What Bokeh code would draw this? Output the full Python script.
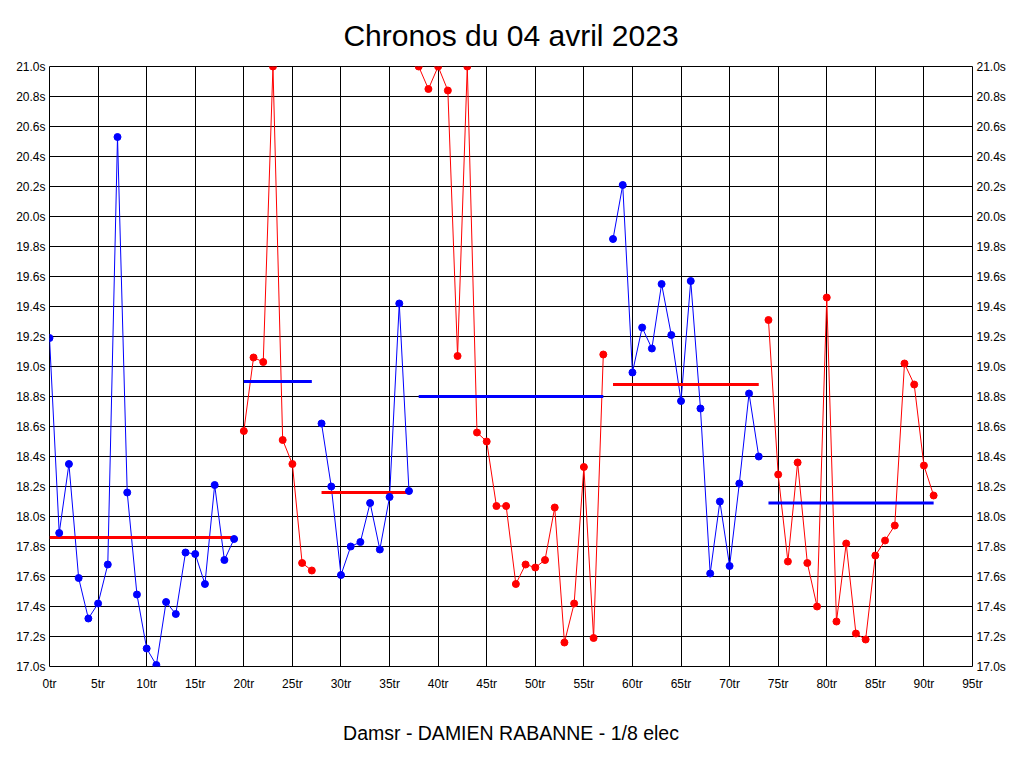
from bokeh.plotting import figure
from bokeh.models import FixedTicker, PrintfTickFormatter, LinearAxis, Range1d
from bokeh.embed import file_html
from bokeh.resources import INLINE

# ---- data (lap times in seconds, laps numbered from 0) ----
seg1_start = 0
seg1_times = [19.19, 17.89, 18.35, 17.59, 17.32, 17.42, 17.68, 20.53, 18.16, 17.48,
              17.12, 17.01, 17.43, 17.35, 17.76, 17.75, 17.55, 18.21, 17.71, 17.85]
seg2_start = 20
seg2_times = [18.57, 19.06, 19.03, 21.00, 18.51, 18.35, 17.69, 17.64]
seg3_start = 28
seg3_times = [18.62, 18.20, 17.61, 17.80, 17.83, 18.09, 17.78, 18.13, 19.42, 18.17]
seg4_start = 38
seg4_times = [21.00, 20.85, 21.00, 20.84, 19.07, 21.00, 18.56, 18.50, 18.07, 18.07,
              17.55, 17.68, 17.66, 17.71, 18.06, 17.16, 17.42, 18.33, 17.19, 19.08]
seg5_start = 58
seg5_times = [19.85, 20.21, 18.96, 19.26, 19.12, 19.55, 19.21, 18.77, 19.57, 18.72,
              17.62, 18.10, 17.67, 18.22, 18.82, 18.40]
seg6_start = 74
seg6_times = [19.31, 18.28, 17.70, 18.36, 17.69, 17.40, 19.46, 17.30, 17.82, 17.22,
              17.18, 17.74, 17.84, 17.94, 19.02, 18.88, 18.34, 18.14]
seg_means = [17.86, 18.90, 18.16, 18.80, 18.88, 18.09]
seg_colors = ["#0000ff", "#ff0000", "#0000ff", "#ff0000", "#0000ff", "#ff0000"]
mean_colors = ["#ff0000", "#0000ff", "#ff0000", "#0000ff", "#ff0000", "#0000ff"]

x_ticks = [0, 5, 10, 15, 20, 25, 30, 35, 40, 45, 50, 55, 60, 65, 70, 75, 80, 85, 90, 95]
y_ticks = [17.0, 17.2, 17.4, 17.6, 17.8, 18.0, 18.2, 18.4, 18.6, 18.8, 19.0,
           19.2, 19.4, 19.6, 19.8, 20.0, 20.2, 20.4, 20.6, 20.8, 21.0]

title_text = "Chronos du 04 avril 2023"
footer_text = "Damsr - DAMIEN RABANNE - 1/8 elec"

segments = [(seg1_start, seg1_times), (seg2_start, seg2_times), (seg3_start, seg3_times),
            (seg4_start, seg4_times), (seg5_start, seg5_times), (seg6_start, seg6_times)]

FONT = "Liberation Sans"

p = figure(width=1008, height=752, x_range=Range1d(0, 95), y_range=Range1d(17, 21),
           output_backend="svg", toolbar_location=None,
           min_border_left=49, min_border_right=33, min_border_top=66, min_border_bottom=86)

p.background_fill_color = "white"
p.border_fill_color = "white"
p.outline_line_color = "black"
p.outline_line_width = 1
p.outline_line_alpha = 1

p.title.text = title_text
p.title.align = "center"
p.title.text_font = FONT
p.title.text_font_size = "30px"
p.title.text_font_style = "normal"
p.title.text_color = "black"
p.title.standoff = 30

p.xaxis.ticker = FixedTicker(ticks=x_ticks)
p.xaxis.formatter = PrintfTickFormatter(format="%dtr")
p.yaxis.ticker = FixedTicker(ticks=y_ticks)
p.yaxis.formatter = PrintfTickFormatter(format="%.1fs")

right_axis = LinearAxis(ticker=FixedTicker(ticks=y_ticks), formatter=PrintfTickFormatter(format="%.1fs"))
p.add_layout(right_axis, "right")

for ax in [p.xaxis[0], p.yaxis[0], right_axis]:
    ax.axis_line_color = None
    ax.major_tick_line_color = None
    ax.minor_tick_line_color = None
    ax.major_tick_out = 0
    ax.major_tick_in = 0
    ax.minor_tick_out = 0
    ax.minor_tick_in = 0
    ax.major_label_text_font = FONT
    ax.major_label_text_font_size = "12px"
    ax.major_label_text_color = "black"
    ax.major_label_standoff = 4

p.xaxis.major_label_standoff = 10
p.xaxis.axis_label = footer_text
p.xaxis.axis_label_text_font = FONT
p.xaxis.axis_label_text_font_size = "19.5px"
p.xaxis.axis_label_text_font_style = "normal"
p.xaxis.axis_label_text_color = "black"
p.xaxis.axis_label_standoff = 28

p.xgrid.grid_line_color = "black"
p.xgrid.grid_line_alpha = 1
p.xgrid.grid_line_width = 1
p.ygrid.grid_line_color = "black"
p.ygrid.grid_line_alpha = 1
p.ygrid.grid_line_width = 1

# data lines
for (start, times), c in zip(segments, seg_colors):
    laps = list(range(start, start + len(times)))
    p.line(laps, times, line_color=c, line_width=1)

# mean lines
for (start, times), m, c in zip(segments, seg_means, mean_colors):
    p.line([start, start + len(times) - 1], [m, m], line_color=c, line_width=3)

# markers
for (start, times), c in zip(segments, seg_colors):
    laps = list(range(start, start + len(times)))
    p.scatter(laps, times, marker="circle", size=7, fill_color=c, line_color=c)

open("out.html", "w").write(file_html(p, INLINE))
